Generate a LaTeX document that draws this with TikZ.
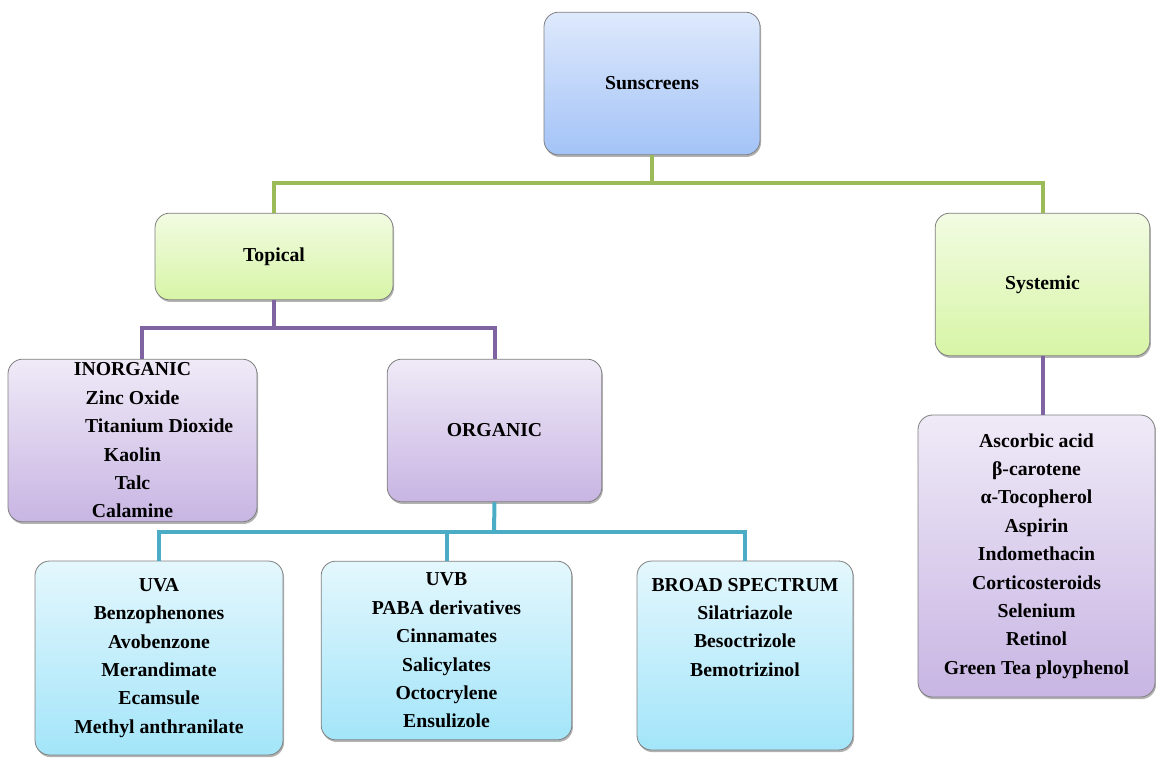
\documentclass[tikz,border=0pt]{standalone}
\usepackage{fontspec}
\setmainfont{Liberation Serif}
\usepackage{tikz}
\usetikzlibrary{shadows}

\definecolor{linegreen}{HTML}{9BBB59}
\definecolor{linepurple}{HTML}{8064A2}
\definecolor{lineteal}{HTML}{4BACC6}
\definecolor{boxgray}{HTML}{7F7F7F}

\tikzset{
    box/.style={draw=boxgray, line width=0.6pt, rounded corners=11pt, align=center,
        inner sep=0pt, font=\fontsize{14.8}{21.3}\selectfont\bfseries,
        drop shadow={shadow xshift=0.8pt, shadow yshift=-1.6pt, opacity=0.3, fill=black}},
    bluebox/.style={box, top color={rgb,255:red,222;green,233;blue,252}, bottom color={rgb,255:red,163;green,195;blue,247}},
    greenbox/.style={box, top color={rgb,255:red,242;green,251;blue,226}, bottom color={rgb,255:red,215;green,245;blue,166}},
    purplebox/.style={box, top color={rgb,255:red,239;green,234;blue,247}, bottom color={rgb,255:red,200;green,181;blue,227}},
    cyanbox/.style={box, top color={rgb,255:red,228;green,247;blue,253}, bottom color={rgb,255:red,163;green,229;blue,249}},
    greenline/.style={line width=3pt, linegreen},
    purpleline/.style={line width=3pt, linepurple},
    tealline/.style={line width=3pt, lineteal}
}

\begin{document}
\begin{tikzpicture}[x=0.75pt, y=-0.75pt]

    \useasboundingbox (0,0) rectangle (1156,757);

    % Define the points where the connectors branch
    \coordinate (gbus) at (652,183);
    \coordinate (pbus) at (274,328);
    \coordinate (tbus) at (494,532);

    % Top level
    \node[bluebox, minimum width=162pt, minimum height=107pt] (sun) at (652,83.5) {Sunscreens};

    % Second level
    \node[greenbox, minimum width=178.5pt, minimum height=65pt] (topical) at (274,256.5) {Topical};
    \node[greenbox, minimum width=161pt, minimum height=107pt] (systemic) at (1042.5,284.5) {Systemic};

    % Third level
    \node[purplebox, minimum width=186.75pt, minimum height=122pt] (inorganic) at (132.5,440.5)
        {INORGANIC\\ Zinc Oxide\\ \hspace*{40pt}Titanium Dioxide\\ Kaolin\\ Talc\\ Calamine};
    \node[purplebox, minimum width=161pt, minimum height=107pt] (organic) at (494.5,430.5) {ORGANIC};
    \node[purplebox, minimum width=177.75pt, minimum height=211.5pt] (agents) at (1036.5,556)
        {Ascorbic acid\\ β-carotene\\ α-Tocopherol\\ Aspirin\\ Indomethacin\\ Corticosteroids\\ Selenium\\ Retinol\\ Green Tea ployphenol};

    % Bottom level
    \node[cyanbox, minimum width=186pt, minimum height=145.5pt] (uva) at (159,658)
        {UVA\\ Benzophenones\\ Avobenzone\\ Merandimate\\ Ecamsule\\ Methyl anthranilate};
    \node[cyanbox, minimum width=188pt, minimum height=134pt] (uvb) at (446.5,650.5)
        {UVB\\ PABA derivatives\\ Cinnamates\\ Salicylates\\ Octocrylene\\ Ensulizole};
    \node[cyanbox, minimum width=162pt, minimum height=141.75pt] (broad) at (745,655.5)
        {BROAD SPECTRUM\\ Silatriazole\\ Besoctrizole\\ Bemotrizinol\\ \mbox{}\\ \mbox{}};

    % Connectors
    \draw[greenline] (sun.south) -- (gbus);
    \draw[greenline] (topical.north) |- (gbus) -| (systemic.north);

    \draw[purpleline] (topical.south) -- (pbus);
    \draw[purpleline] ([xshift=7pt]inorganic.north) |- (pbus) -| (organic.north);
    \draw[purpleline] (systemic.south) -- (systemic.south |- agents.north);

    \draw[tealline] (organic.south) -- (tbus);
    \foreach \child in {uva, uvb, broad}
        \draw[tealline] (\child.north) |- (tbus);

\end{tikzpicture}
\end{document}
